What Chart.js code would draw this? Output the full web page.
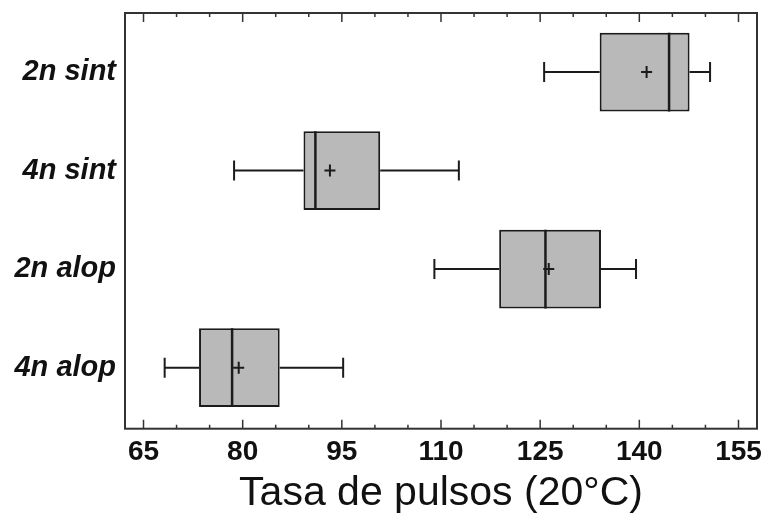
<!DOCTYPE html>
<html>
<head>
<meta charset="utf-8">
<script src="https://cdn.jsdelivr.net/npm/chart.js@4"></script>
<style>
  html, body { margin: 0; padding: 0; background: #fff; }
  #wrap { width: 767px; height: 516px; position: relative; }
</style>
</head>
<body>
<div id="wrap"><canvas id="boxChart"></canvas></div>
<script>
// pulse rate per group: whisker ends, quartiles, median and mean
const groups = ["2n sint", "4n sint", "2n alop", "4n alop"];
const whiskLow  = [125.6, 78.7, 109.0, 68.2];
const q1        = [134.0, 89.2, 118.8, 73.4];
const medians   = [144.5, 91.0, 125.8, 78.4];
const q3        = [147.6, 100.8, 134.2, 85.6];
const whiskHigh = [150.7, 112.7, 139.5, 95.2];
const means     = [141.1, 93.2, 126.3, 79.4];

const xTicks = [65, 80, 95, 110, 125, 140, 155];
const xMinorTicks = [70, 75, 85, 90, 100, 105, 115, 120, 130, 135, 145, 150];

const FONT = "'Liberation Sans', Arial, Helvetica, sans-serif";
const INK = "#1b1b1b";

// whiskers, medians, means, frame and inward tick marks
const boxExtras = {
  id: "boxExtras",
  afterDatasetsDraw(chart) {
    const { ctx, chartArea: a, scales: { x, y } } = chart;
    const bars = chart.getDatasetMeta(0).data;
    ctx.save();
    ctx.strokeStyle = INK;
    ctx.lineCap = "butt";

    groups.forEach((g, i) => {
      const cy = y.getPixelForValue(i);
      const h = bars[i].height;
      const xl = x.getPixelForValue(whiskLow[i]);
      const xq1 = x.getPixelForValue(q1[i]);
      const xq3 = x.getPixelForValue(q3[i]);
      const xh = x.getPixelForValue(whiskHigh[i]);
      const xm = x.getPixelForValue(medians[i]);
      const xa = x.getPixelForValue(means[i]);

      ctx.lineWidth = 2;
      ctx.beginPath();
      ctx.moveTo(xl, cy); ctx.lineTo(xq1, cy);
      ctx.moveTo(xq3, cy); ctx.lineTo(xh, cy);
      ctx.moveTo(xl, cy - 10); ctx.lineTo(xl, cy + 10);
      ctx.moveTo(xh, cy - 10); ctx.lineTo(xh, cy + 10);
      ctx.stroke();

      ctx.lineWidth = 2.5;
      ctx.beginPath();
      ctx.moveTo(xm, cy - h / 2); ctx.lineTo(xm, cy + h / 2);
      ctx.stroke();

      ctx.lineWidth = 2;
      ctx.beginPath();
      ctx.moveTo(xa - 5.5, cy); ctx.lineTo(xa + 5.5, cy);
      ctx.moveTo(xa, cy - 6); ctx.lineTo(xa, cy + 6);
      ctx.stroke();
    });

    ctx.strokeStyle = "#333";
    ctx.lineWidth = 1.5;
    ctx.beginPath();
    xTicks.forEach(v => {
      const px = x.getPixelForValue(v);
      ctx.moveTo(px, a.top); ctx.lineTo(px, a.top + 9);
      ctx.moveTo(px, a.bottom); ctx.lineTo(px, a.bottom - 9);
    });
    xMinorTicks.forEach(v => {
      const px = x.getPixelForValue(v);
      ctx.moveTo(px, a.top); ctx.lineTo(px, a.top + 4);
      ctx.moveTo(px, a.bottom); ctx.lineTo(px, a.bottom - 4);
    });
    ctx.stroke();

    ctx.lineWidth = 2;
    ctx.strokeRect(a.left, a.top, a.right - a.left, a.bottom - a.top);
    ctx.restore();
  }
};

new Chart(document.getElementById("boxChart"), {
  type: "bar",
  data: {
    datasets: [{
      data: groups.map((g, i) => ({ y: i, x: [q1[i], q3[i]] })),
      backgroundColor: "#b9b9b9",
      borderColor: INK,
      borderWidth: 2,
      borderSkipped: false,
      categoryPercentage: 1,
      barPercentage: 0.8
    }]
  },
  options: {
    indexAxis: "y",
    responsive: true,
    maintainAspectRatio: false,
    animation: false,
    events: [],
    layout: { padding: { top: 13, right: 10, left: 0, bottom: 0 } },
    plugins: { legend: { display: false }, tooltip: { enabled: false } },
    scales: {
      x: {
        type: "linear",
        min: 62.2,
        max: 157.8,
        afterBuildTicks: s => { s.ticks = xTicks.map(v => ({ value: v })); },
        afterFit: s => { s.height = 87.3; s.paddingLeft = 0; s.paddingRight = 0; },
        grid: { display: false, drawTicks: false },
        border: { display: false },
        ticks: {
          autoSkip: false,
          maxRotation: 0,
          padding: 7,
          color: "#111",
          font: { family: FONT, size: 28, weight: "bold" }
        },
        title: {
          display: true,
          text: "Tasa de pulsos (20°C)",
          color: "#111",
          padding: { top: 0, bottom: 2 },
          font: { family: FONT, size: 41, lineHeight: 1 }
        }
      },
      y: {
        type: "linear",
        reverse: true,
        offset: false,
        min: -0.6,
        max: 3.62,
        afterBuildTicks: s => { s.ticks = groups.map((g, i) => ({ value: i })); },
        afterFit: s => { s.width = 125; s.paddingTop = 0; s.paddingBottom = 0; },
        grid: { display: false, drawTicks: false, offset: false },
        border: { display: false },
        ticks: {
          padding: 9,
          color: "#111",
          callback: v => groups[v],
          font: { family: FONT, size: 29, weight: "bold", style: "italic" }
        }
      }
    }
  },
  plugins: [boxExtras]
});
</script>
</body>
</html>
